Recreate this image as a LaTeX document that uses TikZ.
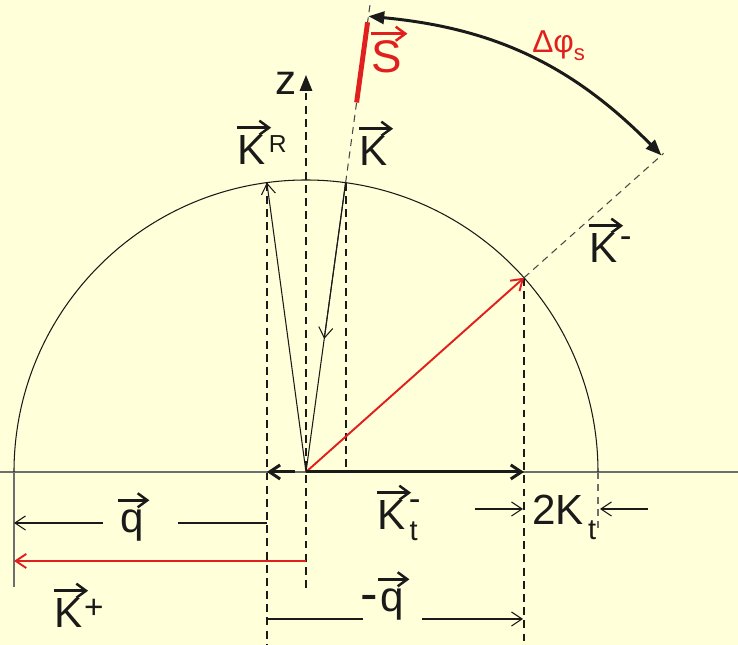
\documentclass[tikz,border=0pt]{standalone}
\usepackage{amsmath}
\usepackage{fontspec}
\setmainfont{Liberation Sans}
\usetikzlibrary{arrows.meta, calc, positioning}
\definecolor{PaperBg}{HTML}{FFFFD9}
\definecolor{VecRed}{HTML}{E11F1F}
\definecolor{Ink}{HTML}{1A1A1A}
\definecolor{AxisGray}{HTML}{6E6E6E}

\begin{document}
\begin{tikzpicture}[x=0.02cm, y=0.02cm, >={Straight Barb[length=6pt,width=8pt]},
    lbl/.style={inner sep=0pt, anchor=base west, text=Ink, font=\fontsize{24}{28}\selectfont},
    scr/.style={inner sep=0pt, anchor=north west, text=Ink, font=\fontsize{16.5}{18}\selectfont},
    dashscr/.style={scr, font=\fontsize{20}{22}\selectfont},
    vecarr/.style={-{Straight Barb[length=5.5pt,width=8pt]}, line width=1.4pt, color=Ink},
    thinline/.style={color=Ink, line width=0.6pt},
    guide/.style={color=Ink, dash pattern=on 4.5pt off 3pt, line width=1.1pt},
    ray/.style={color=Ink!80, dash pattern=on 4pt off 3pt, line width=0.6pt}]
    % 0. Paper
    \fill[PaperBg] (-306,-173) rectangle (432,472);
    \useasboundingbox (-306,-173) rectangle (432,472);

    % -------------------------------------------------------------
    % POINTS ON THE SPHERE (radius 292)
    % -------------------------------------------------------------
    \coordinate (O) at (0,0);
    \coordinate (Bot) at (0,-173);
    \coordinate (KR) at (97.7:292);
    \coordinate (Kin) at (82.2:292);
    \coordinate (Km) at (41.7:292);
    \coordinate (Sa) at (82.2:373);
    \coordinate (Sb) at (82.2:454);
    \coordinate (Stip) at (82.2:460);
    \coordinate (Kmtip) at (41.7:476);

    % 1. Base line and semicircle
    \draw[color=AxisGray, line width=0.6pt] (-306,0) -- (432,0);
    \draw[thinline] (292,0) arc (0:180:292);
    \draw[color=AxisGray, line width=0.6pt] (-292,0) -- (-292,-115);
    \draw[color=AxisGray, dash pattern=on 4pt off 3pt, line width=0.6pt] (292,0) -- (292,-58);

    % 2. Vertical guides and z axis
    \draw[guide] (KR) -- (KR |- Bot);
    \draw[guide] (Kin) -- (Kin |- 0,4);
    \draw[guide] (Km) -- (Km |- 0,-170);
    \draw[guide, -{Triangle[length=9pt,width=7pt]}] (0,-116) -- (0,397);
    \node[lbl] (lblz) at (-31,377) {z};

    % 3. Rays beyond the sphere and spin S
    \draw[ray] (Kin) -- (82.2:478);
    \draw[ray] (Km) -- (41.7:479);
    \draw[VecRed, line width=2.8pt] (Sa) -- (Sb);
    \node[lbl, text=VecRed, font=\fontsize{26}{30}\selectfont] (lblS) at (65,399) {S};
    \draw[vecarr, color=VecRed] ([yshift=4pt]lblS.north west) -- ([xshift=3pt, yshift=4pt]lblS.north east);

    % 4. Wave vectors K, K^R, K^-
    \draw[thinline, ->] (O) -- (KR);
    \draw[thinline] (Kin) -- (O);
    \draw[thinline, ->] (Kin) -- ($(Kin)!0.54!(O)$);
    \draw[VecRed, line width=1.1pt, ->] (O) -- (Km);

    \node[lbl] (lblKR) at (-69,307) {K};
    \node[scr, font=\fontsize{14}{15}\selectfont] (lblKRsup) at ([xshift=1.5pt]lblKR.north east) {R};
    \node[lbl] (lblK) at (53,306) {K};
    \node[lbl] (lblKm) at (283,209) {K};
    \node[dashscr] (lblKmsup) at ([xshift=1pt, yshift=-1.5pt]lblKm.north east) {-};
    \foreach \v in {lblKR, lblK, lblKm}
        \draw[vecarr] ([yshift=4.5pt]\v.north west) -- ([xshift=3pt, yshift=4.5pt]\v.north east);

    % 5. Rotation angle
    \draw[Ink, line width=1.7pt, {Triangle[length=9pt,width=7pt]}-{Triangle[length=9pt,width=7pt]}]
        (Stip) to[bend left=20] (Kmtip);
    \node[lbl, text=VecRed, font=\fontsize{18}{20}\selectfont] (lblphi) at (226,419) {$\text{Δφ}_{\text{s}}$};

    % 6. Tangential parts on the base line
    \draw[Ink, line width=1.7pt, ->] (-11,0) -- (KR |- O);
    \draw[Ink, line width=1.7pt, ->] (O) -- (Km |- O);
    \node[lbl] (lblKt) at (71,-58) {K};
    \node[dashscr] (lblKtsup) at ([xshift=1.5pt, yshift=0.5pt]lblKt.north east) {-};
    \node[scr] (lblKtsub) at ([xshift=2pt, yshift=5pt]lblKt.south east) {t};
    \draw[vecarr] ([yshift=4.5pt]lblKt.north west) -- ([xshift=3pt, yshift=4.5pt]lblKt.north east);

    % 7. Width 2K_t
    \draw[thinline, ->] (169,-37) -- (217,-37);
    \draw[thinline, ->] (342,-37) -- (294,-37);
    \node[lbl] (lbl2K) at (226,-53) {2K};
    \node[scr] (lbl2Ksub) at ([xshift=2pt, yshift=3pt]lbl2K.south east) {t};

    % 8. Transfers q, -q and K^+
    \coordinate (qR) at (-39,-51);
    \coordinate (qL) at (-292,-51);
    \coordinate (qgapR) at (-128,-51);
    \coordinate (qgapL) at (-203,-51);
    \draw[thinline] (qR) -- (qgapR);
    \draw[thinline, ->] (qgapL) -- (qL);
    \node[lbl] (lblq) at (-186,-61) {q};

    \coordinate (KpR) at (0,-89);
    \coordinate (KpL) at (-292,-89);
    \draw[VecRed, line width=1.1pt, ->] (KpR) -- (KpL);
    \node[lbl] (lblKp) at (-252,-156) {K};
    \node[scr, font=\fontsize{19}{20}\selectfont] (lblKpsup) at ([xshift=0.5pt]lblKp.north east) {+};
    \draw[vecarr] ([yshift=4.5pt]lblKp.north west) -- ([xshift=3pt, yshift=4.5pt]lblKp.north east);

    \coordinate (mqL) at (-39,-147);
    \coordinate (mqR) at (217,-147);
    \coordinate (mqgapL) at (57,-147);
    \coordinate (mqgapR) at (116,-147);
    \draw[thinline] (mqL) -- (mqgapL);
    \draw[thinline, ->] (mqgapR) -- (mqR);
    \node[lbl] (lblmq) at (74,-140) {q};
    \node[lbl, anchor=base east, font=\fontsize{30}{32}\selectfont] (lblmqdash) at ([xshift=-1pt]lblmq.base west) {-};
    \foreach \v in {lblq, lblmq}
        \draw[vecarr] ([xshift=-1pt, yshift=5.5pt]\v.north west) -- ([xshift=3pt, yshift=5.5pt]\v.north east);
\end{tikzpicture}
\end{document}
